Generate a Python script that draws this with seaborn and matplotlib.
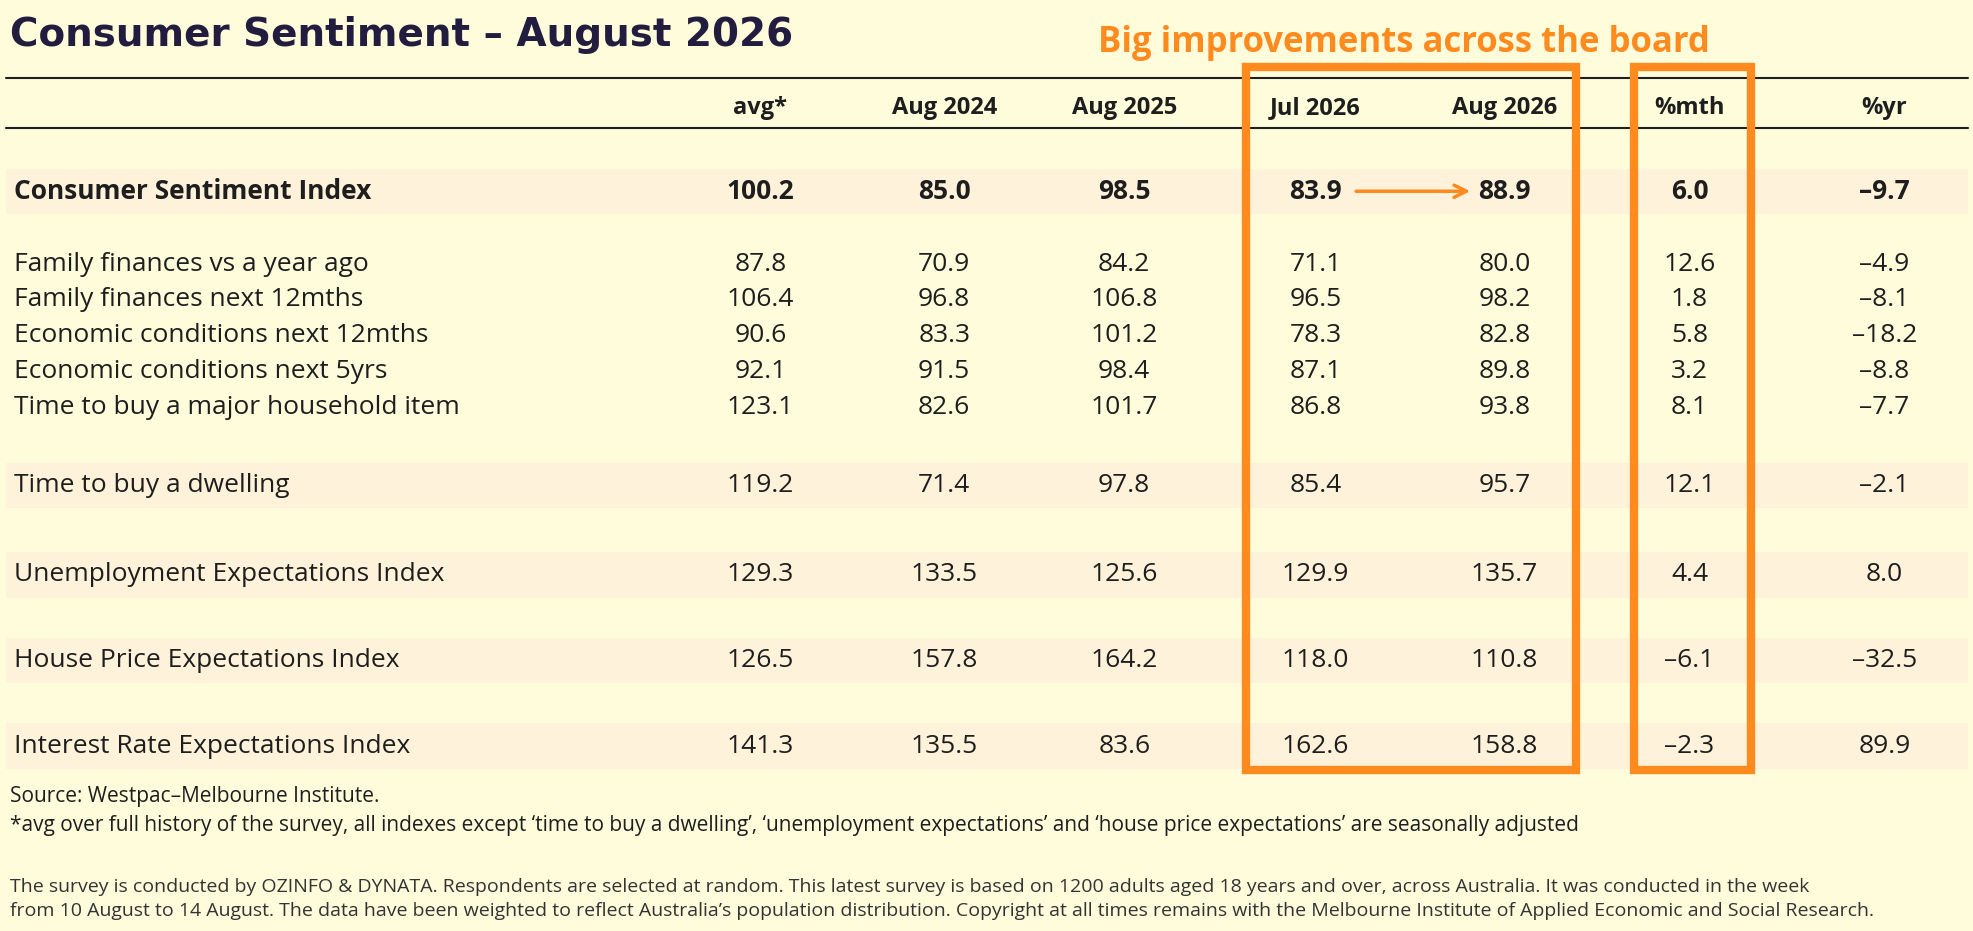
import matplotlib
matplotlib.use("Agg")
import matplotlib.pyplot as plt
import seaborn as sns
from matplotlib.patches import Rectangle

sns.set_theme(style="white")
plt.rcParams['font.family'] = ['Open Sans', 'DejaVu Sans']

columns = ['avg*', 'Aug 2024', 'Aug 2025', 'Jul 2026', 'Aug 2026', '%mth', '%yr']
labels = ['Consumer Sentiment Index', 'Family finances vs a year ago', 'Family finances next 12mths',
          'Economic conditions next 12mths', 'Economic conditions next 5yrs',
          'Time to buy a major household item', 'Time to buy a dwelling',
          'Unemployment Expectations Index', 'House Price Expectations Index',
          'Interest Rate Expectations Index']
avg = ['100.2', '87.8', '106.4', '90.6', '92.1', '123.1', '119.2', '129.3', '126.5', '141.3']
aug24 = ['85.0', '70.9', '96.8', '83.3', '91.5', '82.6', '71.4', '133.5', '157.8', '135.5']
aug25 = ['98.5', '84.2', '106.8', '101.2', '98.4', '101.7', '97.8', '125.6', '164.2', '83.6']
jul26 = ['83.9', '71.1', '96.5', '78.3', '87.1', '86.8', '85.4', '129.9', '118.0', '162.6']
aug26 = ['88.9', '80.0', '98.2', '82.8', '89.8', '93.8', '95.7', '135.7', '110.8', '158.8']
pct_mth = ['6.0', '12.6', '1.8', '5.8', '3.2', '8.1', '12.1', '4.4', '–6.1', '–2.3']
pct_yr = ['–9.7', '–4.9', '–8.1', '–18.2', '–8.8', '–7.7', '–2.1', '8.0', '–32.5', '89.9']

BG = '#FFFCDC'
BAND = '#FFF2DA'
ORANGE = '#FF8A1E'
INK = '#1E1E1E'

fig = plt.figure(figsize=(19.74, 9.31), dpi=100, facecolor=BG)
ax = fig.add_axes([0, 0, 1, 1])
ax.set_facecolor(BG)
ax.set_xlim(0, 1568)
ax.set_ylim(740, 0)
ax.axis('off')

col_x = [604, 750, 893, 1045, 1195, 1342, 1497]
row_y = [152, 210, 238, 267, 295, 324, 386, 457, 525, 593]
banded = [0, 6, 7, 8, 9]

ax.text(8, 28, 'Consumer Sentiment – August 2026', fontsize=28, fontweight='bold',
        color='#221C3E', va='center', ha='left', family=['DejaVu Sans'])
ax.text(1115, 34, 'Big improvements across the board', fontsize=25, fontweight='bold',
        color=ORANGE, va='center', ha='center')

ax.plot([5, 1563], [62, 62], color=INK, lw=1.5)
ax.plot([5, 1563], [102, 102], color=INK, lw=1.5)

for i in banded:
    ax.add_patch(Rectangle((5, row_y[i] - 18), 1558, 36, color=BAND, lw=0, zorder=0))

for cx, c in zip(col_x, columns):
    ax.text(cx, 86, c, fontsize=17, fontweight='bold', color=INK, ha='center', va='center')

values = [avg, aug24, aug25, jul26, aug26, pct_mth, pct_yr]
for r, (y, lab) in enumerate(zip(row_y, labels)):
    w = 'bold' if r == 0 else 'normal'
    ax.text(11, y, lab, fontsize=19, fontweight=w, color=INK, ha='left', va='center')
    for cx, col in zip(col_x, values):
        ax.text(cx, y, col[r], fontsize=19, fontweight=w, color=INK, ha='center', va='center')

ax.annotate('', xy=(1170, row_y[0]), xytext=(1075, row_y[0]),
            arrowprops=dict(arrowstyle='->', color=ORANGE, lw=2.5, mutation_scale=22))

for x0, x1 in [(990, 1252), (1298, 1391)]:
    ax.add_patch(Rectangle((x0, 53), x1 - x0, 559, fill=False, ec=ORANGE, lw=6, zorder=5))

ax.text(8, 633, 'Source: Westpac–Melbourne Institute.', fontsize=15, color=INK, va='center')
ax.text(8, 656, '*avg over full history of the survey, all indexes except ‘time to buy a dwelling’, '
        '‘unemployment expectations’ and ‘house price expectations’ are seasonally adjusted',
        fontsize=15, color=INK, va='center')
ax.text(8, 705, 'The survey is conducted by OZINFO & DYNATA. Respondents are selected at random. This latest survey '
        'is based on 1200 adults aged 18 years and over, across Australia. It was conducted in the week',
        fontsize=14, color='#333333', va='center')
ax.text(8, 724, 'from 10 August to 14 August. The data have been weighted to reflect Australia’s population '
        'distribution. Copyright at all times remains with the Melbourne Institute of Applied Economic and Social Research.',
        fontsize=14, color='#333333', va='center')

fig.savefig('out.png', dpi=100, facecolor=BG)
